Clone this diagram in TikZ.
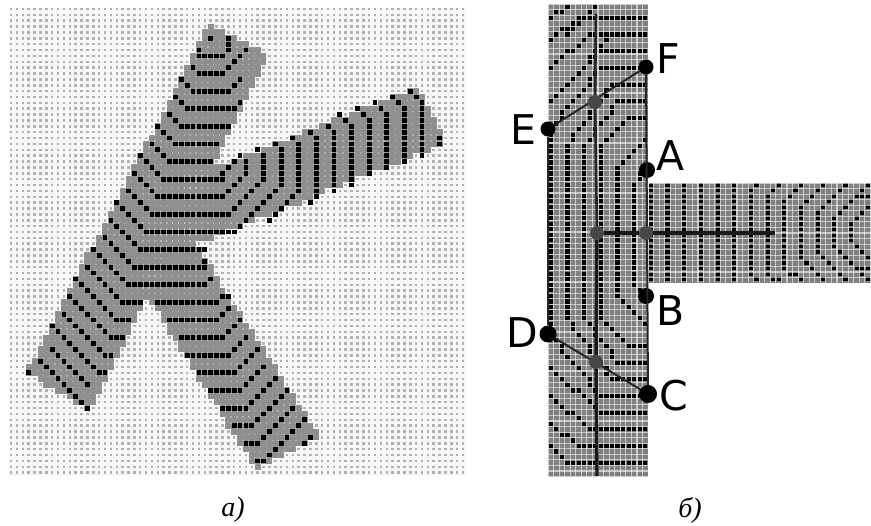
\documentclass[tikz,border=0pt]{standalone}
\usepackage{fontspec}
\setmainfont{Liberation Serif}
\newfontfamily\lblfont{DejaVu Sans}
\def\gridx{210.7}\def\gridy{38.3}\def\gridd{5.87}\def\grids{2.4}
\newcommand\dotseg[4]{%
  \pgfmathtruncatemacro\ia{round((#1-\gridx)/\gridd)}%
  \pgfmathtruncatemacro\ja{round((#2-\gridy)/\gridd)}%
  \pgfmathtruncatemacro\ib{round((#3-\gridx)/\gridd)}%
  \pgfmathtruncatemacro\jb{round((#4-\gridy)/\gridd)}%
  \pgfmathtruncatemacro\stepsn{max(abs(\ib-\ia),abs(\jb-\ja))}%
  \pgfmathtruncatemacro\stepsd{max(\stepsn,1)}%
  \foreach \k in {0,...,\stepsn}{%
    \pgfmathsetmacro\ptx{\gridx+\gridd*round(\ia+\k*(\ib-\ia)/\stepsd)}%
    \pgfmathsetmacro\pty{\gridy+\gridd*round(\ja+\k*(\jb-\ja)/\stepsd)}%
    \fill[stripecol] (\ptx-\grids,\pty-\grids) rectangle (\ptx+\grids,\pty+\grids);
  }%
}
\def\nomark{none}
\newcommand\dotline[1]{%
  \foreach \xa/\ya [remember=\xa as \xp (initially none),remember=\ya as \yp (initially none)] in {#1}{%
    \ifx\xp\nomark\else\dotseg{\xp}{\yp}{\xa}{\ya}\fi
  }%
}
\newcommand\spanscan[2]{%
  \foreach \j in {-3,...,73}{%
    \pgfmathsetmacro\yy{\gridy+\gridd*\j}%
    \xdef\xlo{9999}\xdef\xhi{-9999}%
    \foreach \ea/\eb/\ec/\ed in #1{%
      \pgfmathsetmacro\lowy{min(\eb,\ed)}%
      \pgfmathsetmacro\highy{max(\eb,\ed)}%
      \ifdim\yy pt>\lowy pt\ifdim\yy pt<\highy pt
        \pgfmathsetmacro\tcross{\ea+(\yy-\eb)/(\ed-\eb)*(\ec-\ea)}%
        \pgfmathsetmacro\tmpl{min(\xlo,\tcross)}\xdef\xlo{\tmpl}%
        \pgfmathsetmacro\tmpr{max(\xhi,\tcross)}\xdef\xhi{\tmpr}%
      \fi\fi
    }%
    \ifdim\xhi pt>\xlo pt
      \pgfmathsetmacro\snl{\gridx+\gridd*(round((\xlo-\gridx)/\gridd)-0.5)}%
      \pgfmathsetmacro\snr{\gridx+\gridd*(round((\xhi-\gridx)/\gridd)+0.5)}%
      #2
    \fi
  }%
}
\newcommand\spans[1]{\spanscan{#1}{\fill[bandgray] (\snl,\yy-\gridd/2-0.1) rectangle (\snr,\yy+\gridd/2+0.1);}}
\newcommand\bandlines[1]{\spanscan{#1}{\draw[bandlite] (\snl,\yy-\gridd/2) -- (\snr,\yy-\gridd/2);}}
\newcommand\rchev[4]{% vertical x, top y, row start x, row y
  \pgfmathsetmacro\ymir{466-#2}\pgfmathsetmacro\rmir{466-#4}%
  \dotline{#3/#4,#1/#2,#1/\ymir,#3/\rmir,647/\rmir}%
  \dotseg{#3}{#4}{647}{#4}%
}
\newcommand\achev[2]{% vertical x, top y
  \pgfmathsetmacro\ymir{466-#2}\pgfmathsetmacro\xend{min(#1+#2-185,869)}%
  \pgfmathsetmacro\yend{#2-(\xend-#1)}\pgfmathsetmacro\yendm{466-\yend}%
  \dotline{\xend/\yend,#1/#2,#1/\ymir,\xend/\yendm}%
}
\definecolor{bandgray}{gray}{0.56}
\definecolor{bgdot}{gray}{0.7}
\definecolor{bgbase}{gray}{0.97}
\definecolor{panelgray}{gray}{0.5}
\definecolor{midnode}{gray}{0.28}
\colorlet{stripecol}{black}
\tikzset{
  bandlite/.style={draw=white,draw opacity=0.3,line width=1.5pt,dash pattern=on 1.5pt off 4.37pt,dash phase=0.75pt},
  bigdot/.style={circle,fill=black,inner sep=0pt,minimum size=#1},
  middot/.style={circle,fill=midnode,inner sep=0pt,minimum size=14pt},
  letter/.style={font=\lblfont\fontsize{41}{41}\selectfont,text=black,inner sep=0pt},
  captext/.style={font=\itshape\fontsize{28}{28}\selectfont,text=black,inner sep=0pt},
  thinline/.style={draw=black!85,line width=2pt},
  midline/.style={draw=black!85,line width=2.6pt},
  heavyline/.style={draw=black!90,line width=3.4pt},
  gridline/.style={white,opacity=0.58,line width=1.1pt},
}
\begin{document}
\begin{tikzpicture}[x=1pt,y=-1pt]
\useasboundingbox (0,0) rectangle (871,526);
\fill[white] (0,0) rectangle (871,526);
% ---------- panel a: background
\fill[bgbase] (9,8) rectangle (466,476);
\foreach \j in {-5,...,74}{
  \pgfmathsetmacro\yy{\gridy+\gridd*\j}
  \draw[bgdot,line width=2.5pt,dash pattern=on 2.5pt off 3.37pt] (9.85,\yy) -- (465.5,\yy);
}
% ---------- panel a: band
\def\barA{211/26/266/56,266/56/88/409,88/409/29/372,29/372/211/26}
\def\barB{190/178/411/90,411/90/419/93,419/93/442/143,442/143/190/246,190/246/190/178}
\def\barC{174/215/318/437,318/437/257/467,257/467/148/293,148/293/174/215}
\spans{\barA}\spans{\barB}\spans{\barC}
\bandlines{\barA}\bandlines{\barB}\bandlines{\barC}
% ---------- panel a: stripes
\dotline{211/38,211/38}
\dotline{229/38,229/50,217/56,199/56,199/50}
\dotline{247/50,223/74,199/74,193/68}
\dotline{240/79,230/91,192/91,182/79}
\dotline{241/103,235/109,187/109,176/97}
\dotline{230/127,182/127,170/115}
\dotline{217/144,176/144,158/127}
\dotline{213/162,170/162,152/144}
\dotline{240/156,223/173,223/179,163/179,140/156}
\dotline{240/156,246/162,246/173,223/197,157/197,134/173}
\dotline{258/150,264/155,264/179,230/215,151/215,128/191}
\dotline{276/144,282/150,282/185,234/232,146/232,117/203}
\dotline{202/249,140/249,111/220}
\dotline{205/261,202/267,134/267,105/238}
\dotline{211/278,205/284,128/284,93/249}
\dotline{229/296,212/302,157/302}
\dotline{141/302,123/302,88/267}
\dotline{229/307,217/319,170/319}
\dotline{129/319,117/319,76/278}
\dotline{241/319,223/337,182/337}
\dotline{123/337,111/337,70/296}
\dotline{246/337,229/354,187/354}
\dotline{111/354,105/354,64/313}
\dotline{258/349,235/372,199/372}
\dotline{105/372,99/372,52/325}
\dotline{264/366,241/390,211/390}
\dotline{52/348,88/384}
\dotline{41/360,88/407}
\dotline{29/372,29/372}
\dotline{276/378,246/407,223/407}
\dotline{287/389,252/425,235/425}
\dotline{293/407,258/443,246/443}
\dotline{305/419,264/460,258/460}
\dotline{311/437,305/442}
% right arm stripes
\dotline{270/220,299/191,299/144,293/138}
\dotline{311/203,317/197,317/138,311/132}
\dotline{334/191,334/132,328/127}
\dotline{352/185,352/127,340/115}
\dotline{370/173,370/120,358/109}
\dotline{387/168,387/114,375/103}
\dotline{405/162,405/109,393/97}
\dotline{422/156,422/103,411/91}
\dotline{440/144,440/138}
% ---------- panel b: body
\fill[panelgray] (548,4) rectangle (648,477);
\fill[panelgray] (648,183) rectangle (871,283);
\def\gridx{550.8}\def\gridy{6.8}\def\gridd{5.56}\def\grids{2.1}
\colorlet{stripecol}{black}
\rchev{550}{130}{600}{68}
\rchev{567}{147}{613}{85}
\rchev{583}{147}{620}{102}
\rchev{600}{147}{627}{118}
\rchev{617}{170}{647}{140}
\rchev{633}{183}{647}{170}
\dotline{550/100,600/52,647/52}
\dotline{550/366,600/414,647/414}
\dotline{550/70,590/35,647/35}
\dotline{550/396,590/431,647/431}
\dotline{550/40,577/18,647/18}
\dotline{550/426,577/448,647/448}
\dotline{550/18,565/6}
\dotline{550/448,565/465,647/465}
\dotline{565/36,595/6}
\dotline{565/84,612/36}
\foreach \vx in {650,667,683,700,717,735}{\dotseg{\vx}{185}{\vx}{281}}
\achev{752}{190}\achev{768}{195}\achev{785}{200}\achev{802}{207}\achev{818}{212}\achev{835}{218}\achev{852}{225}
\dotline{857/196,869/196}
\dotline{857/270,869/270}
% grid of light lines
\foreach \j in {0,...,85}{
  \pgfmathsetmacro\yy{4+5.56*\j}
  \draw[gridline] (548,\yy) -- (648,\yy);
}
\foreach \i in {0,...,18}{
  \pgfmathsetmacro\xx{548+5.56*\i}
  \draw[gridline] (\xx,4) -- (\xx,477);
}
\foreach \j in {0,...,18}{
  \pgfmathsetmacro\yy{183+5.56*\j}
  \draw[gridline] (648,\yy) -- (871,\yy);
}
\foreach \i in {0,...,40}{
  \pgfmathsetmacro\xx{648+5.56*\i}
  \draw[gridline] (\xx,183) -- (\xx,283);
}
% ---------- panel b: points
\coordinate (topend) at (596,14);
\coordinate (botend) at (597,476);
\coordinate (armend) at (775,233);
\node[bigdot=15pt] (E) at (548,129) {};
\node[bigdot=15pt] (F) at (646,67) {};
\node[bigdot=16pt] (A) at (647,170) {};
\node[bigdot=16pt] (B) at (646,296) {};
\node[bigdot=17pt] (D) at (548,334) {};
\node[bigdot=18pt] (C) at (648,394) {};
\draw[midline] (E) -- (D);
\draw[thinline] (F) -- (C);
\draw[thinline] (E) -- (F);
\draw[thinline] (D) -- (C);
\node[middot] (M1) at (595,102) {};
\node[middot] (M2) at (597,233) {};
\node[middot] (M3) at (646,233) {};
\node[middot] (M4) at (596,362) {};
\draw[midline] (topend) -- (M1);
\draw[midline] (M1) -- (M2);
\draw[heavyline] (M2) -- (M4);
\draw[heavyline] (M4) -- (botend);
\draw[heavyline] (M2) -- (M3);
\draw[heavyline] (M3) -- (armend);
% ---------- labels
\node[letter] (lE) at (523,130) {E};
\node[letter] (lF) at (668,59) {F};
\node[letter] (lA) at (671,156) {A};
\node[letter] (lB) at (671,311) {B};
\node[letter] (lD) at (522,333) {D};
\node[letter] (lC) at (674,396) {C};
\node[captext] (capa) at (233,510) {а)};
\node[captext] (capb) at (690,510) {б)};
\end{tikzpicture}
\end{document}
